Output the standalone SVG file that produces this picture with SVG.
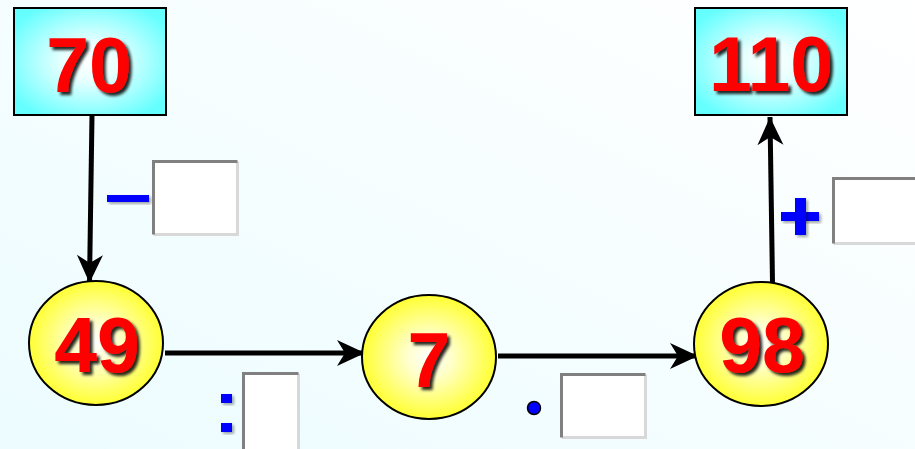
<svg xmlns="http://www.w3.org/2000/svg" width="915" height="449" viewBox="0 0 915 449">
<defs>
<linearGradient id="bg" x1="0" y1="1" x2="1" y2="0">
<stop offset="0" stop-color="#ecfcff"/>
<stop offset="1" stop-color="#ffffff"/>
</linearGradient>
<radialGradient id="cyan" cx="0.5" cy="0.5" r="0.6">
<stop offset="0" stop-color="#ffffff"/>
<stop offset="0.3" stop-color="#e8ffff"/>
<stop offset="1" stop-color="#66ffff"/>
</radialGradient>
<radialGradient id="yellow" cx="0.5" cy="0.5" r="0.5">
<stop offset="0" stop-color="#ffffff"/>
<stop offset="0.35" stop-color="#ffffc8"/>
<stop offset="1" stop-color="#ffff33"/>
</radialGradient>
<filter id="sh" x="-20%" y="-20%" width="140%" height="140%">
<feDropShadow dx="3" dy="3" stdDeviation="1.5" flood-color="#000" flood-opacity="0.85"/>
</filter>
<filter id="sh2" x="-30%" y="-30%" width="160%" height="160%">
<feDropShadow dx="2" dy="2" stdDeviation="1.5" flood-color="#000" flood-opacity="0.35"/>
</filter>
<marker id="ah" markerUnits="userSpaceOnUse" markerWidth="32" markerHeight="32" viewBox="-30 -15 32 30" refX="0" refY="0" orient="auto">
<path d="M0,0 L-28,-13 L-20,0 L-28,13 Z" fill="#000"/>
</marker>
</defs>
<style>
.num{font-family:"Liberation Sans",Arial,sans-serif;font-weight:bold;font-size:77px;fill:#ff0000;text-anchor:middle;filter:url(#sh)}
.box{fill:url(#cyan);stroke:#000;stroke-width:2}
.circ{fill:url(#yellow);stroke:#000;stroke-width:2}
.conn{stroke:#000;stroke-width:5;fill:none;marker-end:url(#ah)}
.inp{fill:#fff}
.inpA{stroke:#808080;stroke-width:3;fill:none}
.inpB{stroke:#d8d8d8;stroke-width:3;fill:none}
.op{fill:#0000ff;filter:url(#sh2)}
</style>
<rect width="915" height="449" fill="url(#bg)"/>
<g id="connectors">
<path class="conn" d="M92,115 L89.5,283"/>
<path class="conn" d="M165,353 L365,353"/>
<path class="conn" d="M498,356 L698,356"/>
<path class="conn" d="M772.5,283 L770,117"/>
</g>
<g id="n70">
<rect class="box" x="14" y="8" width="152" height="107"/>
<text class="num" x="89" y="92">70</text>
</g>
<g id="n110">
<rect class="box" x="695" y="8" width="152" height="107"/>
<text class="num" x="771" y="91">110</text>
</g>
<g id="n49">
<ellipse class="circ" cx="96" cy="343" rx="67" ry="62"/>
<text class="num" x="97" y="372">49</text>
</g>
<g id="n7">
<ellipse class="circ" cx="429" cy="357" rx="67" ry="62"/>
<text class="num" x="429" y="387">7</text>
</g>
<g id="n98">
<ellipse class="circ" cx="761" cy="344" rx="67" ry="62"/>
<text class="num" x="762" y="372">98</text>
</g>
<g id="op-minus">
<rect class="op" x="107" y="195" width="42" height="7"/>
<rect class="inp" x="152" y="160" width="87" height="76"/>
<path class="inpB" d="M153.5,234.5 H237.5 V161.5"/>
<path class="inpA" d="M153.5,234.5 V161.5 H237.5"/>
</g>
<g id="op-div">
<rect class="op" x="221" y="394" width="11" height="9"/>
<rect class="op" x="221" y="423" width="11" height="9"/>
<rect class="inp" x="242" y="372" width="58" height="80"/>
<path class="inpB" d="M298.5,373.5 V452"/>
<path class="inpA" d="M243.5,452 V373.5 H298.5"/>
</g>
<g id="op-mul">
<circle cx="534" cy="408" r="6.5" fill="#0000ff" stroke="#000" stroke-width="1.5"/>
<rect class="inp" x="560" y="373" width="87" height="66"/>
<path class="inpB" d="M561.5,437.5 H645.5 V374.5"/>
<path class="inpA" d="M561.5,437.5 V374.5 H645.5"/>
</g>
<g id="op-plus">
<rect class="op" x="781" y="212" width="38" height="9"/>
<rect class="op" x="795" y="198" width="11" height="37"/>
<rect class="inp" x="832" y="177" width="90" height="68"/>
<path class="inpB" d="M833.5,243.5 H920"/>
<path class="inpA" d="M833.5,243.5 V178.5 H920"/>
</g>
</svg>
